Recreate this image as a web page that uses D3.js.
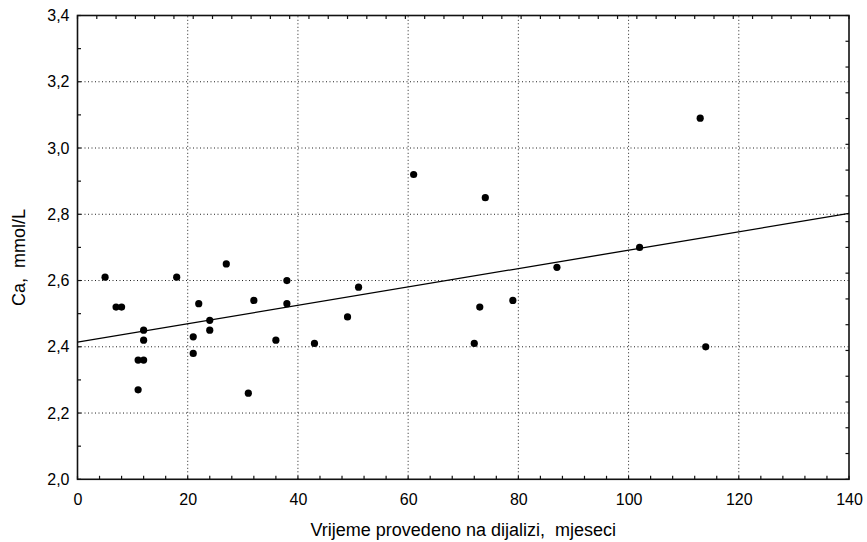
<!DOCTYPE html>
<html>
<head>
<meta charset="utf-8">
<script src="https://cdn.jsdelivr.net/npm/d3@7/dist/d3.min.js"></script>
<style>
html,body{margin:0;padding:0;background:#fff;}
svg{display:block;font-family:"Liberation Sans",Arial,Helvetica,sans-serif;}
text{white-space:pre;}
</style>
</head>
<body>
<svg id="chart" width="867" height="542"></svg>
<script>
// Months on dialysis
const months = [5,7,8,11,11,12,12,12,18,21,21,22,24,24,27,31,32,36,38,38,43,49,51,61,72,73,74,79,87,102,113,114];
// Serum calcium, mmol/L
const calcium = [2.61,2.52,2.52,2.36,2.27,2.36,2.45,2.42,2.61,2.43,2.38,2.53,2.48,2.45,2.65,2.26,2.54,2.42,2.60,2.53,2.41,2.49,2.58,2.92,2.41,2.52,2.85,2.54,2.64,2.70,3.09,2.40];
const xTicks = [0,20,40,60,80,100,120,140];
const yTicks = [2.0,2.2,2.4,2.6,2.8,3.0,3.2,3.4];
const xLabel = "Vrijeme provedeno na dijalizi,  mjeseci";
const yLabel = "Ca,  mmol/L";

const svg = d3.select("#chart");
const x = d3.scaleLinear().domain([0,140]).range([77.5,849]);
const y = d3.scaleLinear().domain([2.0,3.4]).range([479.3,15.5]);
const fmt = v => d3.format(".1f")(v).replace(".", ",");

// grid
const g = svg.append("g");
g.selectAll(".gx").data(xTicks.slice(1,-1)).enter().append("line")
  .attr("x1",d=>x(d)).attr("x2",d=>x(d)).attr("y1",y(2.0)).attr("y2",y(3.4))
  .attr("stroke","#222").attr("stroke-width",1).attr("stroke-dasharray","1,2.5");
g.selectAll(".gy").data(yTicks.slice(1,-1)).enter().append("line")
  .attr("y1",d=>y(d)).attr("y2",d=>y(d)).attr("x1",x(0)).attr("x2",x(140))
  .attr("stroke","#222").attr("stroke-width",1).attr("stroke-dasharray","1,2.5");

// minor ticks (inward)
const tl = 3.5;
const bottomMinor = d3.range(0,140.01,4);
const topMinor = d3.range(0,140.01,3.5);
const leftMinor = d3.range(2.0,3.401,0.1);
const rightMinor = d3.range(0,18.5,1).map(i=>2.0+i*1.4/18);
g.selectAll(".bm").data(bottomMinor).enter().append("line")
  .attr("x1",d=>x(d)).attr("x2",d=>x(d)).attr("y1",y(2.0)).attr("y2",y(2.0)-tl)
  .attr("stroke","#111").attr("stroke-width",1.2);
g.selectAll(".tm").data(topMinor).enter().append("line")
  .attr("x1",d=>x(d)).attr("x2",d=>x(d)).attr("y1",y(3.4)).attr("y2",y(3.4)+tl)
  .attr("stroke","#111").attr("stroke-width",1.2);
g.selectAll(".lm").data(leftMinor).enter().append("line")
  .attr("y1",d=>y(d)).attr("y2",d=>y(d)).attr("x1",x(0)).attr("x2",x(0)+tl)
  .attr("stroke","#111").attr("stroke-width",1.2);
g.selectAll(".rm").data(rightMinor).enter().append("line")
  .attr("y1",d=>y(d)).attr("y2",d=>y(d)).attr("x1",x(140)).attr("x2",x(140)-tl)
  .attr("stroke","#111").attr("stroke-width",1.2);

// frame
svg.append("rect").attr("x",x(0)).attr("y",y(3.4))
  .attr("width",x(140)-x(0)).attr("height",y(2.0)-y(3.4))
  .attr("fill","none").attr("stroke","#111").attr("stroke-width",1.6);

// axes labels via d3 axes (no lines)
const xAxis = svg.append("g").attr("transform",`translate(0,${y(2.0)})`)
  .call(d3.axisBottom(x).tickValues(xTicks).tickSize(0).tickPadding(14).tickFormat(d3.format("d")));
xAxis.select(".domain").remove();
xAxis.selectAll("text").attr("font-size",16).attr("fill","#000").attr("font-family","Liberation Sans, Arial, sans-serif");

const yAxis = svg.append("g").attr("transform",`translate(${x(0)},0)`)
  .call(d3.axisLeft(y).tickValues(yTicks).tickSize(0).tickPadding(8).tickFormat(fmt));
yAxis.select(".domain").remove();
yAxis.selectAll("text").attr("font-size",16).attr("fill","#000").attr("font-family","Liberation Sans, Arial, sans-serif");

// axis titles
svg.append("text").attr("x",(x(0)+x(140))/2).attr("y",536)
  .attr("text-anchor","middle").attr("font-size",18).text(xLabel);
svg.append("text").attr("transform",`translate(25,257.5) rotate(-90)`)
  .attr("text-anchor","middle").attr("font-size",18).text(yLabel);

// regression line
const n = months.length;
const mx = d3.mean(months), my = d3.mean(calcium);
let sxy=0, sxx=0;
for(let i=0;i<n;i++){ sxy += (months[i]-mx)*(calcium[i]-my); sxx += (months[i]-mx)**2; }
const slope = sxy/sxx, intercept = my - slope*mx;
svg.append("line").attr("x1",x(0)).attr("y1",y(intercept))
  .attr("x2",x(140)).attr("y2",y(intercept+slope*140))
  .attr("stroke","#000").attr("stroke-width",1.3);

// points
svg.selectAll(".pt").data(months.map((m,i)=>[m,calcium[i]])).enter().append("circle")
  .attr("cx",d=>x(d[0])).attr("cy",d=>y(d[1])).attr("r",3.6).attr("fill","#000");
</script>
</body>
</html>
